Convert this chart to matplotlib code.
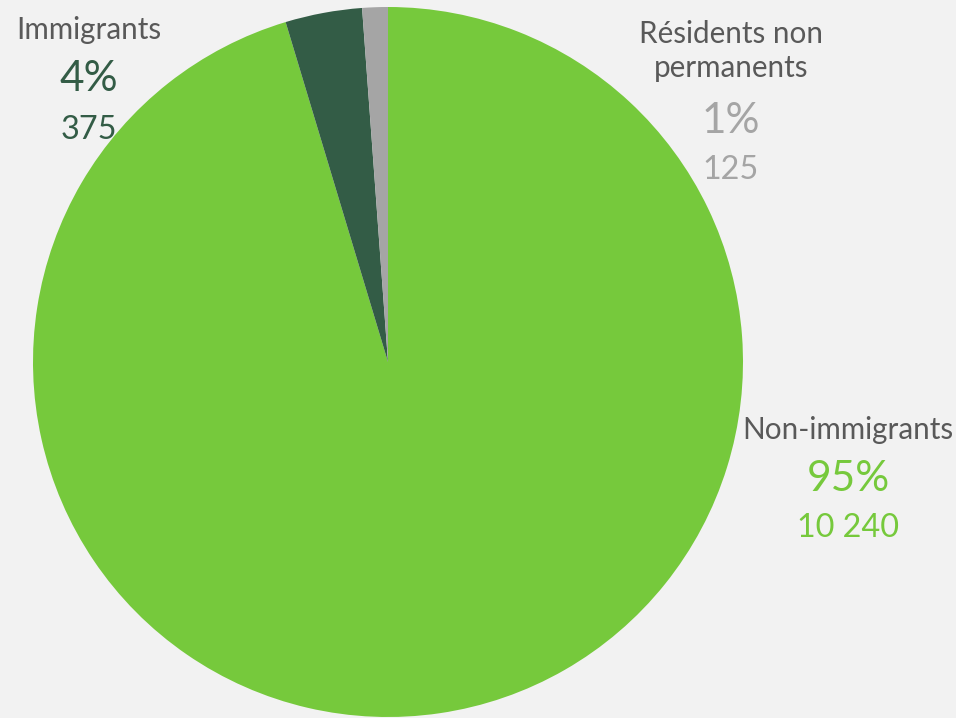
import matplotlib.pyplot as plt

# data
categories = ["Non-immigrants", "Immigrants", "Résidents non\npermanents"]
counts = [10240, 375, 125]
pct_labels = ["95%", "4%", "1%"]
count_labels = ["10 240", "375", "125"]

colors = ["#76C93C", "#335C46", "#A5A5A5"]
bg = "#F2F2F2"
grey_txt = "#595959"

plt.rcParams['font.family'] = ['Lato', 'DejaVu Sans']

W, H = 956, 718
fig = plt.figure(figsize=(W / 100, H / 100), dpi=100, facecolor=bg)

cx, cy, r = 388, 362, 355
ax = fig.add_axes([(cx - r) / W, (H - cy - r) / H, 2 * r / W, 2 * r / H])
ax.set_facecolor(bg)
ax.pie(counts, colors=colors, startangle=90, counterclock=False, radius=1.0,
       wedgeprops=dict(linewidth=0))
ax.set_xlim(-1, 1)
ax.set_ylim(-1, 1)
ax.set_aspect('equal')
ax.axis('off')

# label anchors (pixel centres: x, y of name, pct, count)
label_pos = [
    (848, 430, 479, 528),
    (89, 30, 79, 130),
    (731, 51, 121, 170),
]

for i, cat in enumerate(categories):
    x, yn, yp, yc = label_pos[i]
    fig.text(x / W, 1 - yn / H, cat, ha='center', va='center',
             fontsize=21.3, color=grey_txt, linespacing=1.3)
    fig.text(x / W, 1 - yp / H, pct_labels[i], ha='center', va='center',
             fontsize=30.5, color=colors[i])
    fig.text(x / W, 1 - yc / H, count_labels[i], ha='center', va='center',
             fontsize=23.3, color=colors[i])

fig.savefig("out.png", dpi=100, facecolor=bg)
